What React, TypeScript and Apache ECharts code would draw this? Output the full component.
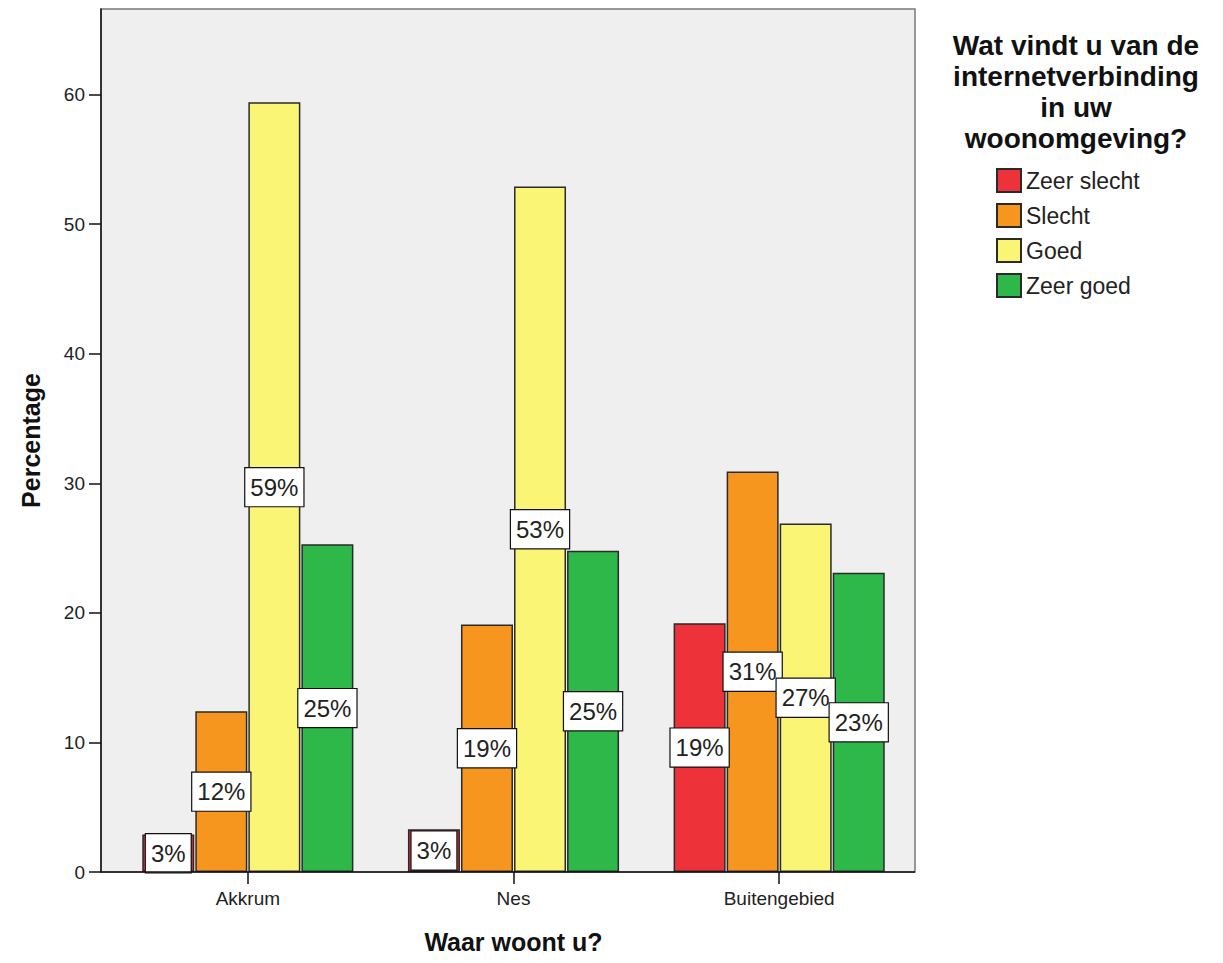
import React, { useEffect, useRef } from "react";
import * as echarts from "echarts";

const categories = ["Akkrum", "Nes", "Buitengebied"];
const seriesNames = ["Zeer slecht", "Slecht", "Goed", "Zeer goed"];
const zeerSlecht = [2.9, 3.3, 19.2];
const slecht = [12.4, 19.1, 30.9];
const goed = [59.4, 52.9, 26.9];
const zeerGoed = [25.3, 24.8, 23.1];
const yTicks = [0, 10, 20, 30, 40, 50, 60];
const colors = ["#EE3239", "#F7961F", "#FAF574", "#2FB84A"];

const FONT = "'Liberation Sans', Arial, sans-serif";

export default function App() {
  const ref = useRef<HTMLDivElement>(null);
  useEffect(() => {
    if (!ref.current) return;
    const chart = echarts.init(ref.current, undefined, { renderer: "svg" });
    const values = [zeerSlecht, slecht, goed, zeerGoed];
    const series = seriesNames.map((name, i) => ({
      name,
      type: "bar",
      data: values[i],
      barWidth: 52,
      barGap: "2%",
      itemStyle: { color: colors[i], borderColor: "#2a2a2a", borderWidth: 1.5 },
      label: {
        show: true,
        position: "inside",
        formatter: (p: any) => Math.round(p.value) + "%",
        backgroundColor: "#ffffff",
        borderColor: "#111",
        borderWidth: 1.2,
        padding: [8, 5, 6, 5],
        fontSize: 24,
        color: "#222",
        fontFamily: FONT,
      },
      z: 3,
    }));
    chart.setOption({
      animation: false,
      textStyle: { fontFamily: FONT },
      grid: { left: 115, right: 311, top: 9, bottom: 91, containLabel: false, outerBoundsMode: "none" },
      graphic: [
        {
          type: "rect",
          z: -10,
          shape: { x: 101, y: 9, width: 814, height: 863 },
          style: { fill: "#EFEFEF", stroke: "#7a7a7a", lineWidth: 1.5 },
        },
        {
          type: "line",
          z: 10,
          shape: { x1: 101, y1: 872, x2: 915, y2: 872 },
          style: { stroke: "#111", lineWidth: 1.5 },
        },
        {
          type: "text",
          x: 1076,
          y: 30,
          style: {
            text: "Wat vindt u van de\ninternetverbinding\nin uw\nwoonomgeving?",
            fontSize: 28,
            fontWeight: "bold",
            fontFamily: FONT,
            lineHeight: 31,
            textAlign: "center",
            textVerticalAlign: "top",
            fill: "#111",
          },
        },
      ],
      legend: {
        orient: "vertical",
        left: 996,
        top: 168,
        padding: 0,
        itemWidth: 24,
        itemHeight: 23,
        itemGap: 10,
        icon: "rect",
        data: seriesNames,
        textStyle: { fontSize: 23, lineHeight: 23, color: "#222", fontFamily: FONT },
      },
      xAxis: {
        type: "category",
        data: categories,
        name: "Waar woont u?",
        nameLocation: "middle",
        nameGap: 57,
        nameTextStyle: { fontSize: 25, fontWeight: "bold", color: "#111", fontFamily: FONT },
        axisLine: { show: false },
        axisTick: { show: true, alignWithLabel: true, length: 12, lineStyle: { color: "#111", width: 1.5 } },
        axisLabel: { fontSize: 19, color: "#222", margin: 17, fontFamily: FONT },
      },
      yAxis: {
        type: "value",
        min: 0,
        max: 66.6,
        interval: 10,
        offset: 14,
        name: "Percentage",
        nameLocation: "middle",
        nameRotate: 90,
        nameGap: 58,
        nameTextStyle: { fontSize: 25, fontWeight: "bold", color: "#111", fontFamily: FONT },
        axisLine: { show: true, lineStyle: { color: "#111", width: 1.5 } },
        axisTick: { show: true, length: 12, customValues: yTicks, lineStyle: { color: "#111", width: 1.5 } },
        axisLabel: { fontSize: 19, color: "#222", margin: 16, customValues: yTicks, fontFamily: FONT },
        splitLine: { show: false },
      },
      series,
    });
    return () => chart.dispose();
  }, []);
  return (
    <div
      ref={ref}
      style={{ position: "fixed", left: 0, top: 0, width: 1223, height: 963, background: "#fff" }}
    />
  );
}
